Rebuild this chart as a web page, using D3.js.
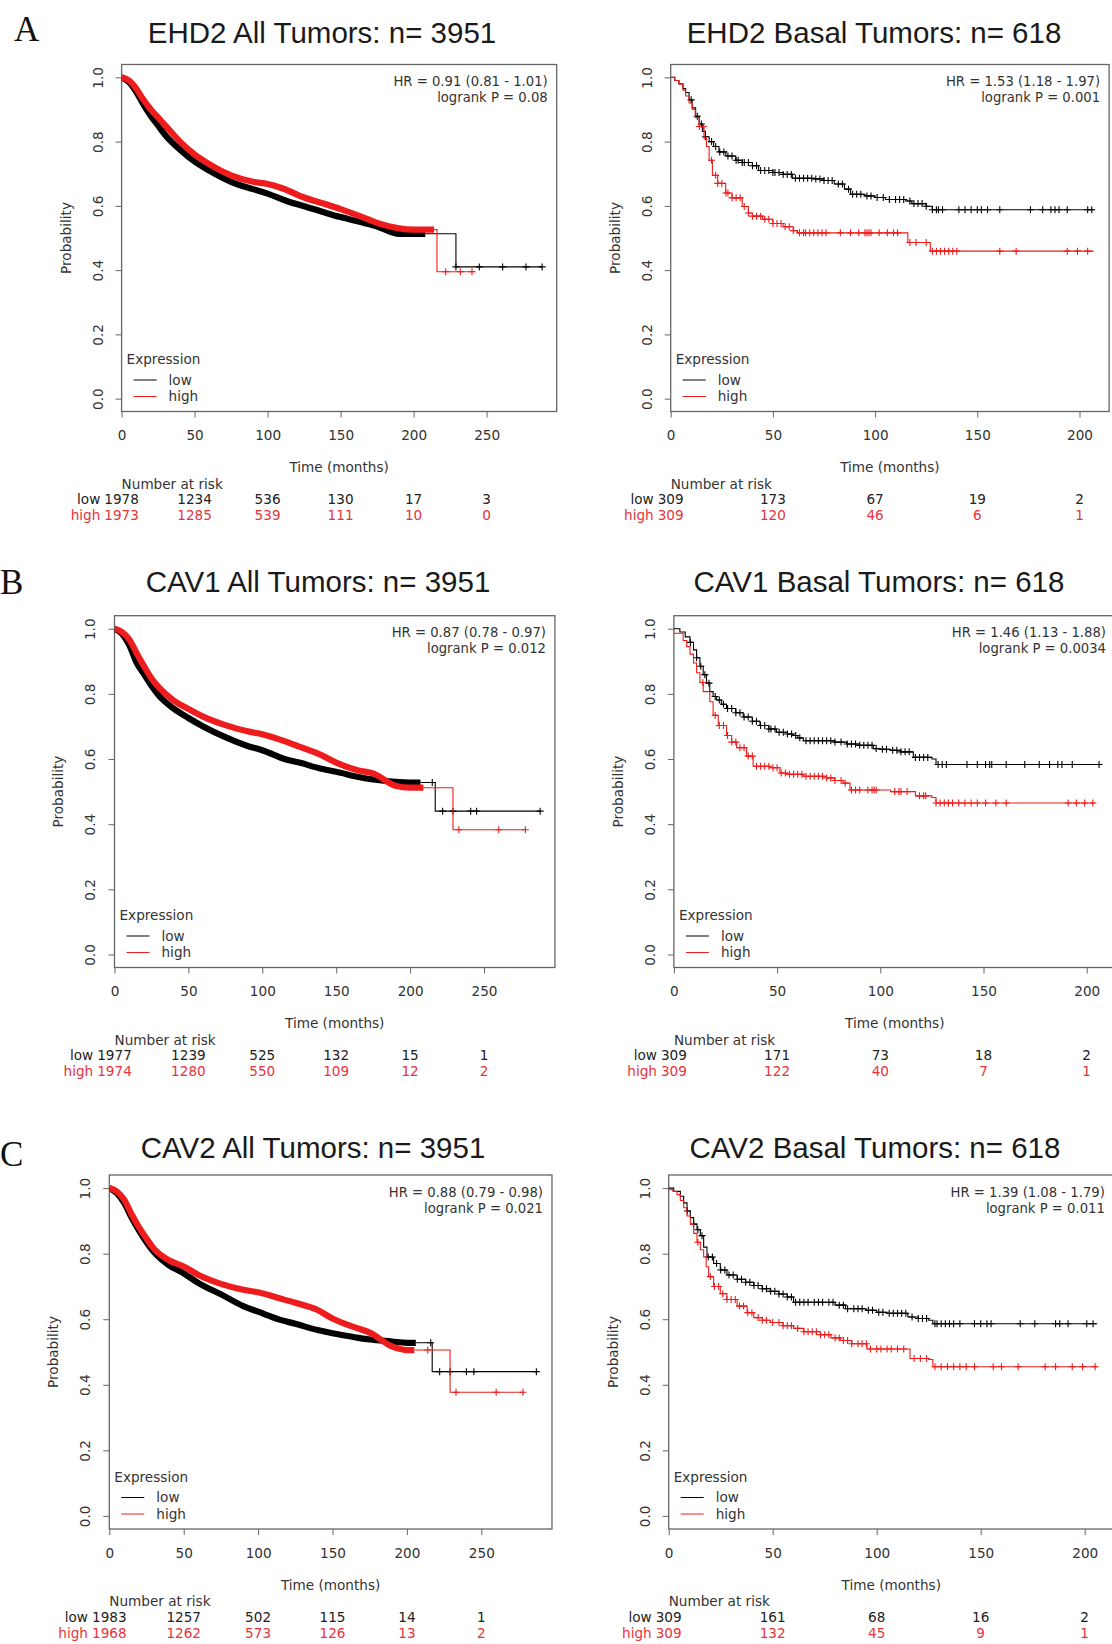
<!DOCTYPE html>
<html><head><meta charset="utf-8">
<script src="https://cdnjs.cloudflare.com/ajax/libs/d3/7.8.5/d3.min.js"></script>
<style>body{margin:0;background:#fff} svg{display:block}</style>
</head><body><svg id="c" width="1112" height="1644"></svg>
<script>
// ---------------- DATA ----------------
const panelTitles = ["EHD2 All Tumors: n= 3951","EHD2 Basal Tumors: n= 618","CAV1 All Tumors: n= 3951","CAV1 Basal Tumors: n= 618","CAV2 All Tumors: n= 3951","CAV2 Basal Tumors: n= 618"];
const panelLetters = ["A","","B","","C",""];
const hrLabels = ["HR = 0.91 (0.81 - 1.01)","HR = 1.53 (1.18 - 1.97)","HR = 0.87 (0.78 - 0.97)","HR = 1.46 (1.13 - 1.88)","HR = 0.88 (0.79 - 0.98)","HR = 1.39 (1.08 - 1.79)"];
const logrankLabels = ["logrank P = 0.08","logrank P = 0.001","logrank P = 0.012","logrank P = 0.0034","logrank P = 0.021","logrank P = 0.011"];
const groupNames = ["low","high"];
const xTicksAll = [0,50,100,150,200,250];
const xTicksBasal = [0,50,100,150,200];
const yTicks = [0,0.2,0.4,0.6,0.8,1.0];

// EHD2 all tumors
const ehd2AllLowTime = [0,5,10,15,20,25,30,40,50,60,75,90,100,115,125,140,150,165,175,190,229,288];
const ehd2AllLowSurv = [1.0,0.985,0.955,0.915,0.88,0.85,0.82,0.775,0.738,0.71,0.675,0.652,0.638,0.612,0.599,0.578,0.565,0.548,0.536,0.513,0.41,0.41];
const ehd2AllHighTime = [0,5,10,15,20,25,30,40,50,60,75,90,100,110,125,140,150,165,175,190,200,216,242];
const ehd2AllHighSurv = [1.0,0.99,0.965,0.93,0.9,0.875,0.85,0.8,0.76,0.73,0.695,0.675,0.668,0.655,0.626,0.605,0.59,0.565,0.547,0.53,0.526,0.395,0.395];
const ehd2AllLowCensor = [229,245,261,277,288];
const ehd2AllHighCensor = [222,232,240];
const ehd2AllDenseEnd = [208,214];

// EHD2 basal
const ehd2BasLowTime = [0,2,4,6,7.3,9,10.5,12.2,14,15.5,17,18.8,21,23.6,27,31.8,35,40,43,50,55,59.5,70,75,80,85,88,95,100,105,115,118,125,128,207];
const ehd2BasLowSurv = [1.0,0.99,0.98,0.965,0.953,0.93,0.905,0.879,0.855,0.832,0.815,0.8,0.785,0.768,0.755,0.742,0.735,0.725,0.71,0.704,0.698,0.686,0.684,0.679,0.668,0.652,0.636,0.631,0.626,0.62,0.615,0.607,0.599,0.588,0.588];
const ehd2BasHighTime = [0,2,4,6,7.3,9,10.6,12,13.9,16.3,17.5,18.8,20.4,23,26.9,30,35,38,40,45,50,55,60,62,116,127,207];
const ehd2BasHighSurv = [1.0,0.99,0.979,0.96,0.942,0.92,0.9,0.875,0.847,0.81,0.785,0.742,0.695,0.67,0.64,0.625,0.598,0.578,0.568,0.558,0.545,0.535,0.523,0.516,0.486,0.459,0.459];
const ehd2BasLowCensor = [10,13,15,17,20,22,24,26,28,30,32,33,35,36,38,40,42,44,46,48,50,51,53,55,57,59,61,63,65,67,69,71,73,75,77,79,82,84,87,89,91,93,96,98,101,104,107,110,112,114,117,119,121,123,125,128,130,131,133,141,144,147,150,152,155,161,176,182,186,188,190,194,204,206];
const ehd2BasHighCensor = [14,16,20,22,23,25,27,28,30,32,34,36,38,40,42,44,46,48,50,52,54,56,58,60,63,65,66,68,70,72,74,76,83,88,92,95,96,97,98,102,106,109,111,117,120,125,128,130,132,134,136,138,140,161,169,194,199,204];

// CAV1 all tumors
const cav1AllLowTime = [0,5,10,15,20,25,30,40,50,60,75,90,100,115,125,140,150,165,175,190,200,217,288];
const cav1AllLowSurv = [1.0,0.985,0.95,0.895,0.86,0.825,0.795,0.755,0.726,0.7,0.667,0.64,0.627,0.6,0.589,0.57,0.561,0.545,0.537,0.53,0.528,0.44,0.44];
const cav1AllHighTime = [0,5,10,15,20,25,30,40,50,60,75,90,100,115,125,140,150,165,175,190,200,229,278];
const cav1AllHighSurv = [1.0,0.99,0.967,0.925,0.885,0.848,0.82,0.78,0.754,0.73,0.704,0.685,0.676,0.655,0.638,0.612,0.589,0.565,0.556,0.518,0.512,0.383,0.383];
const cav1AllLowCensor = [215,222,229,241,245,288];
const cav1AllHighCensor = [233,260,278];
const cav1AllDenseEnd = [207,209];

// CAV1 basal
const cav1BasLowTime = [0,2.9,5.5,7.8,9.5,11,12.6,14.2,15.8,17.4,19,20.7,23,25.5,30,33.6,38,41.7,46,49.7,55,57.8,60,62.7,78,83.7,90,96.6,100,105,110,116,125,127,206];
const cav1BasLowSurv = [1.0,0.99,0.975,0.958,0.935,0.911,0.885,0.859,0.833,0.807,0.792,0.781,0.768,0.755,0.742,0.729,0.716,0.703,0.692,0.682,0.677,0.672,0.665,0.656,0.652,0.646,0.642,0.632,0.63,0.627,0.622,0.605,0.6,0.583,0.583];
const cav1BasHighTime = [0,4.5,6.2,7.8,9.5,11,12.6,14.2,17.4,19,21.5,25.5,28,30.4,35.2,38.4,46.5,51.4,55,62.7,74,78,82,85.3,105,117,125,127,204];
const cav1BasHighSurv = [0.986,0.964,0.945,0.922,0.895,0.865,0.835,0.807,0.776,0.734,0.703,0.672,0.652,0.635,0.609,0.578,0.573,0.557,0.553,0.547,0.542,0.534,0.526,0.505,0.5,0.487,0.482,0.465,0.465];
const cav1BasLowCensor = [8,11,13,15,17,20,22,24,26,28,30,32,34,36,38,40,42,44,46,47,49,51,53,55,57,59,61,64,66,68,70,72,74,76,78,81,84,86,88,90,92,94,96,98,101,103,106,108,110,112,114,117,119,121,123,128,130,132,142,147,151,153,154,161,170,177,182,186,188,193,206];
const cav1BasHighCensor = [14,20,22,24,26,28,30,32,34,36,38,40,42,44,46,48,50,52,54,56,58,60,62,64,66,68,70,72,74,76,78,81,83,86,88,90,94,96,97,98,107,109,110,113,119,121,122,127,129,131,133,135,138,141,144,147,151,156,161,191,195,199,203];

// CAV2 all tumors
const cav2AllLowTime = [0,5,10,15,20,25,30,40,50,60,75,90,100,115,125,140,150,165,175,190,200,217,288];
const cav2AllLowSurv = [1.0,0.985,0.955,0.91,0.87,0.835,0.805,0.765,0.74,0.71,0.676,0.64,0.623,0.598,0.586,0.567,0.557,0.545,0.538,0.532,0.528,0.44,0.44];
const cav2AllHighTime = [0,5,10,15,20,25,30,40,50,60,75,90,100,115,125,140,150,165,175,190,200,229,278];
const cav2AllHighSurv = [1.0,0.99,0.965,0.92,0.88,0.846,0.815,0.78,0.761,0.735,0.708,0.69,0.682,0.663,0.65,0.628,0.602,0.575,0.559,0.517,0.506,0.377,0.377];
const cav2AllLowCensor = [216,222,229,240,245,287];
const cav2AllHighCensor = [214,233,260,278];
const cav2AllDenseEnd = [206,205];

// CAV2 basal
const cav2BasLowTime = [0,2.4,5.6,7.2,8.8,10.4,12,13.6,15.2,16.8,18.4,21.6,24.8,28,32.9,37,40.9,45,48.9,53,57,60,80,85,95,100,105,115,120,125,127,206];
const cav2BasLowSurv = [1.0,0.99,0.975,0.955,0.93,0.91,0.89,0.873,0.855,0.82,0.79,0.77,0.75,0.735,0.722,0.713,0.703,0.693,0.685,0.677,0.668,0.652,0.643,0.632,0.627,0.621,0.618,0.607,0.602,0.597,0.586,0.586];
const cav2BasHighTime = [0,2,4,5.6,7.2,8.8,10.4,12,13.6,15.2,16.8,18,19.2,21.6,24.8,28,32.9,37.7,40.9,45,48.9,55,60,65,73,78,82.5,88,95.3,116,125,127,206];
const cav2BasHighSurv = [0.995,0.99,0.98,0.962,0.94,0.915,0.89,0.862,0.835,0.812,0.79,0.76,0.73,0.7,0.678,0.66,0.64,0.62,0.605,0.597,0.59,0.58,0.572,0.562,0.553,0.543,0.535,0.525,0.509,0.48,0.477,0.455,0.455];
const cav2BasLowCensor = [9,12,14,16,19,21,23,25,27,29,31,33,35,37,39,41,43,45,47,49,51,53,55,57,59,61,63,65,67,70,72,74,77,79,82,84,86,89,91,93,96,98,101,103,106,108,110,112,114,117,120,122,124,128,129,131,133,135,137,140,147,150,153,155,169,176,186,188,192,201,204];
const cav2BasHighCensor = [14,20,22,24,26,28,30,32,34,36,38,40,43,45,47,50,53,55,57,59,62,65,67,69,71,73,75,77,80,82,84,86,88,91,93,95,97,100,102,105,107,110,113,118,121,124,128,131,134,137,140,143,147,156,160,168,181,186,194,199,205];

// Numbers at risk
const riskEhd2AllLow = [1978,1234,536,130,17,3];
const riskEhd2AllHigh = [1973,1285,539,111,10,0];
const riskEhd2BasLow = [309,173,67,19,2];
const riskEhd2BasHigh = [309,120,46,6,1];
const riskCav1AllLow = [1977,1239,525,132,15,1];
const riskCav1AllHigh = [1974,1280,550,109,12,2];
const riskCav1BasLow = [309,171,73,18,2];
const riskCav1BasHigh = [309,122,40,7,1];
const riskCav2AllLow = [1983,1257,502,115,14,1];
const riskCav2AllHigh = [1968,1262,573,126,13,2];
const riskCav2BasLow = [309,161,68,16,2];
const riskCav2BasHigh = [309,132,45,9,1];

// ---------------- LAYOUT ----------------
const layout = [
  {x0:121.6, ppm:1.46,  xmax:298,   top:64.5,  bottom:411.5, titleX:322, titleY:43,   letterX:14, letterY:41},
  {x0:670.7, ppm:2.044, xmax:214.5, top:64.5,  bottom:411.5, titleX:874, titleY:43},
  {x0:114.5, ppm:1.478, xmax:298,   top:615.7, bottom:967.5, titleX:318, titleY:592,  letterX:0, letterY:594},
  {x0:673.9, ppm:2.064, xmax:214,   top:615.7, bottom:967.5, titleX:879, titleY:592},
  {x0:109.3, ppm:1.488, xmax:297.5, top:1175,  bottom:1529,  titleX:313, titleY:1158, letterX:0, letterY:1166},
  {x0:668.7, ppm:2.08,  xmax:214,   top:1175,  bottom:1529,  titleX:875, titleY:1158}
];

const panels = [
  {ticks:xTicksAll, dense:ehd2AllDenseEnd, series:[[ehd2AllLowTime,ehd2AllLowSurv,ehd2AllLowCensor],[ehd2AllHighTime,ehd2AllHighSurv,ehd2AllHighCensor]], risk:[riskEhd2AllLow,riskEhd2AllHigh]},
  {ticks:xTicksBasal, dense:null, series:[[ehd2BasLowTime,ehd2BasLowSurv,ehd2BasLowCensor],[ehd2BasHighTime,ehd2BasHighSurv,ehd2BasHighCensor]], risk:[riskEhd2BasLow,riskEhd2BasHigh]},
  {ticks:xTicksAll, dense:cav1AllDenseEnd, series:[[cav1AllLowTime,cav1AllLowSurv,cav1AllLowCensor],[cav1AllHighTime,cav1AllHighSurv,cav1AllHighCensor]], risk:[riskCav1AllLow,riskCav1AllHigh]},
  {ticks:xTicksBasal, dense:null, series:[[cav1BasLowTime,cav1BasLowSurv,cav1BasLowCensor],[cav1BasHighTime,cav1BasHighSurv,cav1BasHighCensor]], risk:[riskCav1BasLow,riskCav1BasHigh]},
  {ticks:xTicksAll, dense:cav2AllDenseEnd, series:[[cav2AllLowTime,cav2AllLowSurv,cav2AllLowCensor],[cav2AllHighTime,cav2AllHighSurv,cav2AllHighCensor]], risk:[riskCav2AllLow,riskCav2AllHigh]},
  {ticks:xTicksBasal, dense:null, series:[[cav2BasLowTime,cav2BasLowSurv,cav2BasLowCensor],[cav2BasHighTime,cav2BasHighSurv,cav2BasHighCensor]], risk:[riskCav2BasLow,riskCav2BasHigh]}
];

const colors = ["#000000", "#ee1c1c"];
const textColors = ["#222222", "#e8333b"];
const smallFont = "'DejaVu Sans', sans-serif";
const svg = d3.select("#c");

function stepValue(T, S, t) {
  let v = S[0];
  for (let i = 0; i < T.length; i++) { if (T[i] <= t) v = S[i]; else break; }
  return v;
}

panels.forEach((p, pi) => {
  const L = layout[pi];
  const x = d3.scaleLinear().domain([0, L.xmax]).range([L.x0, L.x0 + L.xmax * L.ppm]);
  const y = d3.scaleLinear().domain([-0.04, 1.04]).range([L.bottom, L.top]);
  const g = svg.append("g");

  // title
  g.append("text").attr("x", L.titleX).attr("y", L.titleY).attr("text-anchor", "middle")
    .attr("font-family", "'Liberation Sans', Arial, sans-serif").attr("font-size", 29.5)
    .attr("fill", "#1a1a1a").text(panelTitles[pi]);
  if (panelLetters[pi]) {
    g.append("text").attr("x", L.letterX).attr("y", L.letterY)
      .attr("font-family", "'Liberation Serif', 'DejaVu Serif', serif").attr("font-size", 35)
      .attr("fill", "#111").text(panelLetters[pi]);
  }

  // axes
  const xAxis = d3.axisBottom(x).tickValues(p.ticks).tickSize(6).tickSizeOuter(0);
  const gx = g.append("g").attr("transform", `translate(0,${L.bottom})`).call(xAxis);
  gx.select(".domain").remove();
  gx.selectAll("line").attr("stroke", "#666");
  gx.selectAll("text").attr("font-family", smallFont).attr("font-size", 13.6).attr("fill", "#333").attr("y", 19);

  const yAxis = d3.axisLeft(y).tickValues(yTicks).tickFormat(d3.format(".1f")).tickSize(6).tickSizeOuter(0);
  const gy = g.append("g").attr("transform", `translate(${L.x0},0)`).call(yAxis);
  gy.select(".domain").remove();
  gy.selectAll("line").attr("stroke", "#666");
  gy.selectAll("text").attr("font-family", smallFont).attr("font-size", 13.6).attr("fill", "#333")
    .attr("x", null).attr("dy", "0.36em").attr("text-anchor", "middle")
    .attr("transform", "translate(-24,0) rotate(-90)");

  // box
  g.append("rect").attr("x", x(0)).attr("y", L.top).attr("width", x(L.xmax) - x(0)).attr("height", L.bottom - L.top)
    .attr("fill", "none").attr("stroke", "#666").attr("stroke-width", 1.3);

  // axis titles
  g.append("text").attr("transform", `translate(${L.x0 - 56},${(L.top + L.bottom) / 2}) rotate(-90)`)
    .attr("dy", "0.36em").attr("text-anchor", "middle").attr("font-family", smallFont).attr("font-size", 13.6)
    .attr("fill", "#333").text("Probability");
  g.append("text").attr("x", (x(0) + x(L.xmax)) / 2).attr("y", L.bottom + 56).attr("dy", "0.36em")
    .attr("text-anchor", "middle").attr("font-family", smallFont).attr("font-size", 13.6).attr("fill", "#333")
    .text("Time (months)");

  // HR labels
  const hrX = Math.min(x(L.xmax), 1115) - 9;
  g.append("text").attr("x", hrX).attr("y", L.top + 21.5).attr("text-anchor", "end")
    .attr("font-family", smallFont).attr("font-size", 13.2).attr("fill", "#333").text(hrLabels[pi]);
  g.append("text").attr("x", hrX).attr("y", L.top + 37.5).attr("text-anchor", "end")
    .attr("font-family", smallFont).attr("font-size", 13.2).attr("fill", "#333").text(logrankLabels[pi]);

  // legend
  g.append("text").attr("x", L.x0 + 5).attr("y", L.bottom - 52).attr("dy", "0.36em")
    .attr("font-family", smallFont).attr("font-size", 13.6).attr("fill", "#333").text("Expression");
  groupNames.forEach((nm, gi) => {
    const ly = L.bottom - 31.5 + gi * 16.5;
    g.append("line").attr("x1", L.x0 + 12).attr("x2", L.x0 + 35).attr("y1", ly).attr("y2", ly)
      .attr("stroke", colors[gi]).attr("stroke-width", 1);
    g.append("text").attr("x", L.x0 + 47).attr("y", ly).attr("dy", "0.36em")
      .attr("font-family", smallFont).attr("font-size", 13.6).attr("fill", "#333").text(nm);
  });

  // curves
  const clip = "clip" + pi;
  svg.append("clipPath").attr("id", clip).append("rect")
    .attr("x", x(0)).attr("y", L.top).attr("width", x(L.xmax) - x(0)).attr("height", L.bottom - L.top);
  const cg = g.append("g").attr("clip-path", `url(#${clip})`);

  p.series.forEach((s, si) => {
    const [T, S, C] = s;
    const pts = T.map((t, i) => [t, S[i]]);
    const col = colors[si];
    if (p.dense) {
      const de = p.dense[si];
      const dpts = pts.filter(d => d[0] < de).concat([[de, stepValue(T, S, de)]]);
      const tail = [[de, stepValue(T, S, de)]].concat(pts.filter(d => d[0] > de));
      cg.append("path").datum(dpts)
        .attr("d", d3.line().x(d => x(d[0])).y(d => y(d[1])).curve(d3.curveMonotoneX))
        .attr("fill", "none").attr("stroke", col).attr("stroke-width", 6.2);
      cg.append("path").datum(tail)
        .attr("d", d3.line().x(d => x(d[0])).y(d => y(d[1])).curve(d3.curveStepAfter))
        .attr("fill", "none").attr("stroke", col).attr("stroke-width", 1.1);
    } else {
      cg.append("path").datum(pts)
        .attr("d", d3.line().x(d => x(d[0])).y(d => y(d[1])).curve(d3.curveStepAfter))
        .attr("fill", "none").attr("stroke", col).attr("stroke-width", 1.1);
    }
    cg.selectAll(null).data(C).enter().append("path")
      .attr("transform", t => `translate(${x(t)},${y(stepValue(T, S, t))})`)
      .attr("d", "M-3.5,0H3.5M0,-3.5V3.5").attr("stroke", col).attr("stroke-width", 1.1).attr("fill", "none");
  });

  // number at risk table
  g.append("text").attr("x", L.x0).attr("y", L.bottom + 72.5).attr("dy", "0.36em")
    .attr("font-family", smallFont).attr("font-size", 13.6).attr("fill", "#333").text("Number at risk");
  p.risk.forEach((row, ri) => {
    const ry = L.bottom + 88 + ri * 15.8;
    let firstW = 0;
    row.forEach((v, k) => {
      const t = g.append("text").attr("x", x(p.ticks[k])).attr("y", ry).attr("dy", "0.36em")
        .attr("text-anchor", "middle").attr("font-family", smallFont).attr("font-size", 13.6)
        .attr("fill", textColors[ri]).text(v);
      if (k === 0) firstW = t.node().getComputedTextLength();
    });
    g.append("text").attr("x", L.x0 - firstW / 2 - 4).attr("y", ry).attr("dy", "0.36em")
      .attr("text-anchor", "end").attr("font-family", smallFont).attr("font-size", 13.6)
      .attr("fill", textColors[ri]).text(groupNames[ri]);
  });
});
</script></body></html>
